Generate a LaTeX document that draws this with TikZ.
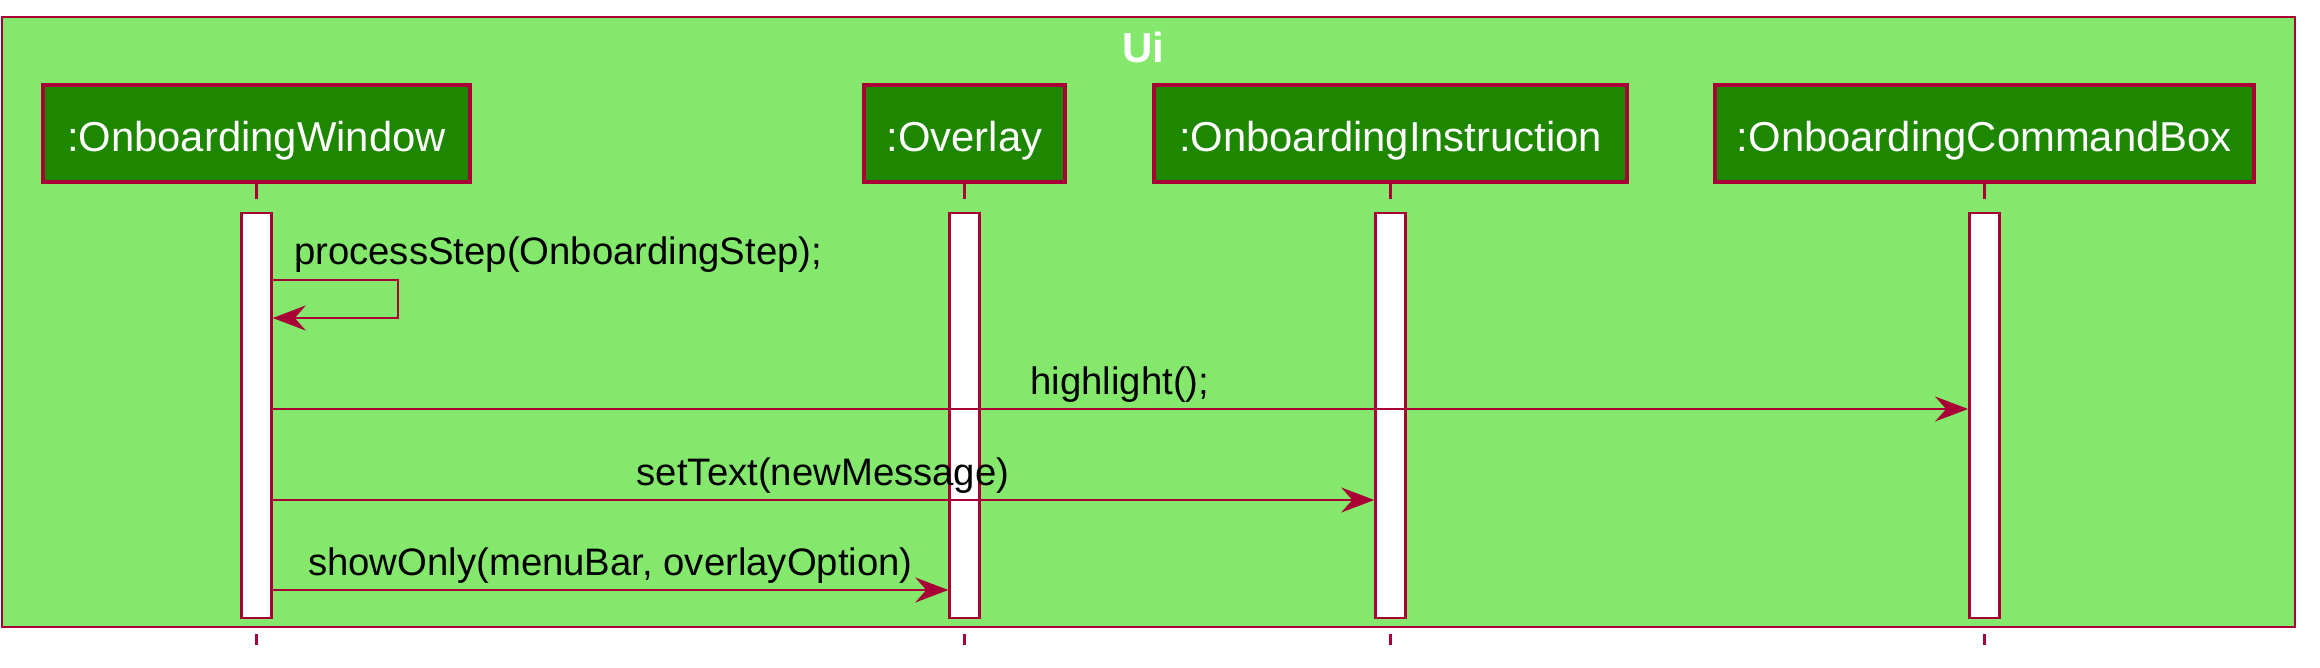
\documentclass[tikz,border=0pt]{standalone}
\usepackage{fontspec}
\setmainfont{Liberation Sans}
\usetikzlibrary{arrows.meta}
\definecolor{uigreen}{HTML}{84E86C}
\definecolor{pgreen}{HTML}{1E8700}
\definecolor{crim}{HTML}{A80036}
\begin{document}
\begin{tikzpicture}[x=1pt,y=-1pt,
 uibox/.style={draw=crim,line width=2pt,fill=uigreen,rectangle,inner sep=0pt},
 part/.style={draw=crim,line width=4pt,fill=pgreen,text=white,inner sep=0pt,minimum height=97pt,text height=37pt,text depth=0pt,font=\fontsize{41.8}{50}\selectfont},
 bar/.style={draw=crim,line width=2.5pt,fill=white,minimum width=30pt,minimum height=405pt,inner sep=0pt},
 lifeline/.style={draw=crim,line width=2.5pt,dash pattern=on 15pt off 15pt},
 msg/.style={draw=crim,line width=2pt,-{Stealth[length=33pt,width=25pt,inset=11pt]}},
 msglabel/.style={anchor=base,inner sep=0pt,font=\fontsize{38.3}{46}\selectfont}]
\useasboundingbox (0,0) rectangle (2320,668);
% outer box
\node[uibox,minimum width=2293pt,minimum height=609.5pt] (ui) at (1148.5,322.25) {};
\node[anchor=base,text=white,inner sep=0pt,font=\bfseries\fontsize{42}{50}\selectfont] (title) at (1143,63) {Ui};
% participants
\node[part,minimum width=427pt] (ow) at (256.5,133.5) {:OnboardingWindow};
\node[part,minimum width=201pt] (ov) at (964.5,133.5) {:Overlay};
\node[part,minimum width=473pt] (oi) at (1390.5,133.5) {:OnboardingInstruction};
\node[part,minimum width=539.4pt] (ocb) at (1984.3,133.5) {:OnboardingCommandBox};
% lifelines
\coordinate (lend) at (0,645);
\draw[lifeline] (ow.south) -- (ow.south |- lend);
\draw[lifeline] (ov.south) -- (ov.south |- lend);
\draw[lifeline] (oi.south) -- (oi.south |- lend);
\draw[lifeline] (ocb.south) -- (ocb.south |- lend);
% activation bars
\node[bar] (owbar) at (256.5,415.5) {};
\node[bar] (ovbar) at (964.5,415.5) {};
\node[bar] (oibar) at (1390.5,415.5) {};
\node[bar] (ocbbar) at (1984.3,415.5) {};
% messages
\coordinate (m0a) at (0,280);
\coordinate (m0b) at (0,318);
\coordinate (m1) at (0,409);
\coordinate (m2) at (0,500);
\coordinate (m3) at (0,590);
\draw[msg] (owbar.east |- m0a) -- ++(125,0) -- ++(0,38) -- (owbar.east |- m0b);
\node[msglabel,anchor=base west] (l0) at (294,265) {processStep(OnboardingStep);};
\draw[msg] (owbar.east |- m1) -- (ocbbar.west |- m1);
\node[msglabel] (l1) at (1120,394) {highlight();};
\draw[msg] (owbar.east |- m2) -- (oibar.west |- m2);
\node[msglabel] (l2) at (823,485) {setText(newMessage)};
\draw[msg] (owbar.east |- m3) -- (ovbar.west |- m3);
\node[msglabel] (l3) at (610.5,575) {showOnly(menuBar, overlayOption)};
\end{tikzpicture}
\end{document}
